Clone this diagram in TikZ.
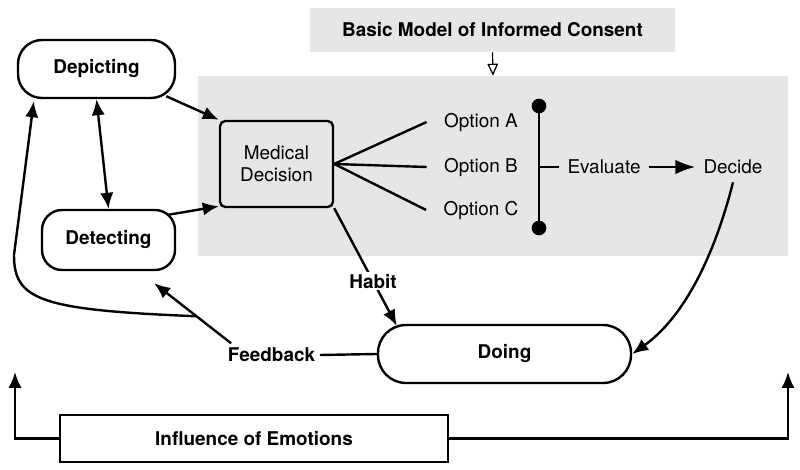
\documentclass[tikz,border=0pt]{standalone}
\usepackage{fontspec}
\setmainfont{TeX Gyre Heros}
\usetikzlibrary{arrows.meta}
\definecolor{panelgray}{HTML}{E6E6E6}
\begin{document}
\begin{tikzpicture}[x=0.75pt,y=-0.75pt,
  txt/.style={font=\fontsize{14.2}{16.5}\selectfont, inner sep=6pt},
  btxt/.style={font=\fontsize{14.2}{16.5}\selectfont\bfseries},
  opt/.style={txt, inner xsep=13pt},
  pill/.style={draw, line width=1.8pt, btxt},
  medbox/.style={draw, line width=1.8pt, fill=panelgray, rounded corners=4pt, align=center,
    minimum width=84.75pt, minimum height=64.5pt, txt},
  region/.style={fill=panelgray, minimum width=442.5pt, minimum height=135pt, inner sep=0pt},
  titlebox/.style={fill=panelgray, minimum width=273.75pt, minimum height=33pt, inner sep=0pt, btxt},
  emobox/.style={draw, line width=1.8pt, minimum width=291pt, minimum height=35.25pt, inner sep=0pt, btxt},
  ln/.style={line width=1.8pt},
  arr/.style={line width=1.8pt, -{Latex[length=12pt,width=10pt]}},
  darr/.style={line width=1.8pt, {Latex[length=12pt,width=10pt]}-{Latex[length=12pt,width=10pt]}},
  bigarr/.style={line width=1.8pt, -{Latex[length=15pt,width=11pt]}},
  hollow/.style={line width=0.9pt, -{Triangle[open,length=9pt,width=8pt]}},
  habitlbl/.style={btxt, fill=white, inner sep=1.5pt}
]
\useasboundingbox (0,0) rectangle (800,470);

% background panels
\node[region] (reg) at (493,166) {};
\node[titlebox] (title) at (492.5,30) {Basic Model of Informed Consent};
\draw[hollow] (title.south) -- (reg.north);

% main nodes
\node[pill, minimum width=117.75pt, minimum height=43.5pt, rounded corners=18pt] (dep) at (96.5,69) {Depicting};
\node[pill, minimum width=99.75pt, minimum height=45pt, rounded corners=15pt] (det) at (108.5,240) {Detecting};
\node[medbox] (med) at (276.5,164) {Medical\\Decision};
\node[opt] (oa) at (481,122) {Option A};
\node[opt] (ob) at (481,167) {Option B};
\node[opt] (oc) at (481,210) {Option C};
\coordinate (barT) at (539,106);
\coordinate (barB) at (539,228);
\coordinate (barM) at (539,167);
\node[txt] (ev) at (604,167) {Evaluate};
\node[txt] (dec) at (733,167) {Decide};
\node[pill, minimum width=189.75pt, minimum height=43.5pt, rounded corners=21pt] (doing) at (504.5,354) {Doing};
\node[btxt] (fb) at (271.5,355) {Feedback};
\node[emobox] (emo) at (254,438.5) {Influence of Emotions};
\coordinate (emoL) at (15,372);
\coordinate (emoR) at (788,372);

% connectors
\draw[arr] ([shift={(-10,-3)}]dep.south east) -- (med.north west);
\draw[arr] ([shift={(-8,6)}]det.north east) -- ([shift={(0,-2)}]med.south west);
\draw[darr] (dep.south) -- (det.north);

\draw[ln] (med.east) -- (oa.west);
\draw[ln] (med.east) -- (ob.west);
\draw[ln] (med.east) -- (oc.west);
\draw[ln] (barT) -- (barB);
\fill (barT) circle (5.5pt);
\fill (barB) circle (5.5pt);
\draw[ln] (barM) -- (ev.west);
\draw[bigarr] (ev.east) -- (dec.west);

\draw[arr] (dec.south) .. controls (712,265) and (680,320) .. (doing.east);
\draw[arr] (med.south east) -- node[habitlbl, pos=0.62] (habit) {Habit} ([shift={(20,2)}]doing.north west);
\draw[ln] (doing.west) -- (fb.east);
\draw[arr] ([shift={(8,0)}]fb.north west) -- coordinate[pos=0.45] (jn) ([shift={(-22,12)}]det.south east);
\draw[arr] (jn) .. controls (40,310) and (14,300) .. (14,255) -- ([shift={(17,2)}]dep.south west);

\draw[arr] (emo.west) -| (emoL);
\draw[arr] (emo.east) -| (emoR);
\end{tikzpicture}
\end{document}
